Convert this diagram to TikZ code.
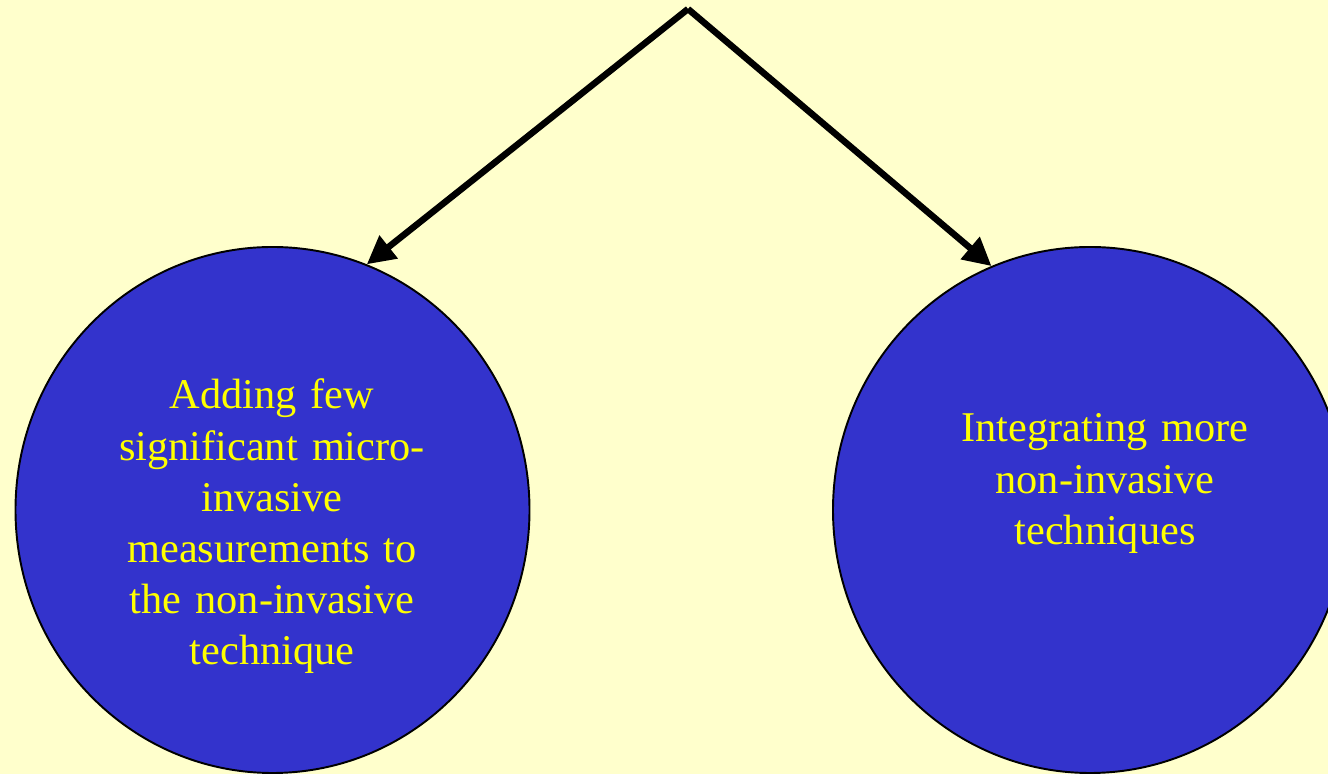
\documentclass[tikz,border=0pt]{standalone}
\usepackage{fontspec}
\setmainfont{Liberation Serif}
\usetikzlibrary{shapes.geometric,arrows.meta}
\definecolor{paper}{HTML}{FFFFCC}
\definecolor{bubblefill}{HTML}{3333CC}
\definecolor{bubbletext}{HTML}{FFFF00}

\begin{document}
\begin{tikzpicture}[bubble/.style={ellipse, draw=black, line width=1.1pt, fill=bubblefill, minimum width=10.28cm, minimum height=10.52cm, inner sep=0pt},
  caption/.style={text=bubbletext, font=\fontsize{24.1}{29.1}\selectfont, text width=8cm, align=center, anchor=base}]

\clip (0,0) rectangle (26.56,15.48);
\fill [paper] (0,0) rectangle (26.56,15.48);

\node [bubble] (adding) at (5.45,5.28) {};
\node [bubble] (integrating) at (21.8,5.28) {};

\node [caption] (addingtext) at (5.44,7.30) {Adding few\\ significant micro-\\ invasive\\ measurements to\\ the non-invasive\\ technique};
\node [caption] (integratingtext) at (22.1,6.64) {Integrating more\\ non-invasive\\ techniques};

\coordinate (top) at (13.76,15.30);

\begin{scope}[line width=3.7pt,-{Triangle[length=0.56cm,width=0.56cm]}]
\draw (top) -- (adding.69);
\draw (top) -- (integrating.112);
\end{scope}

\end{tikzpicture}
\end{document}
